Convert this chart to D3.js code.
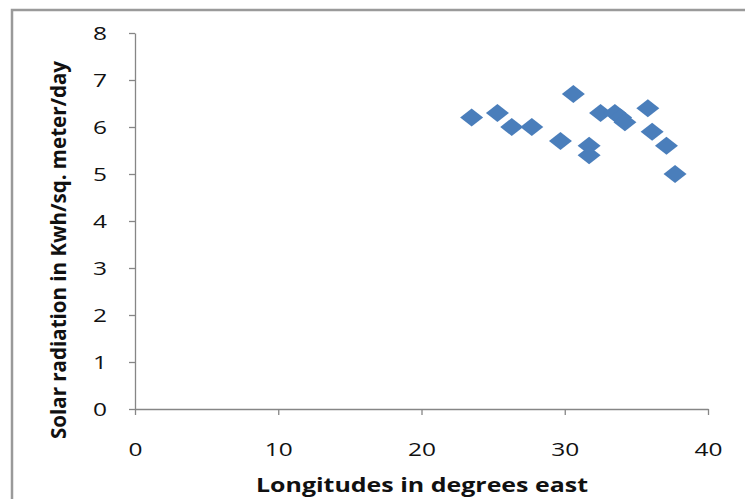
<!DOCTYPE html>
<html><head><meta charset="utf-8">
<script src="https://cdn.jsdelivr.net/npm/d3@7"></script>
<style>body{margin:0;background:#fff;} svg{display:block;}</style>
</head><body>
<svg id="chart" width="745" height="499"></svg>
<script>
const longitudes = [23.5, 25.3, 26.3, 27.7, 29.7, 30.6, 31.7, 31.7, 32.5, 33.5, 33.9, 34.2, 35.8, 36.1, 37.1, 37.7];
const radiation  = [6.2, 6.3, 6.0, 6.0, 5.7, 6.7, 5.6, 5.4, 6.3, 6.3, 6.2, 6.1, 6.4, 5.9, 5.6, 5.0];
const xTicks = [0, 10, 20, 30, 40];
const yTicks = [0, 1, 2, 3, 4, 5, 6, 7, 8];
const xTitle = "Longitudes in degrees east";
const yTitle = "Solar radiation in Kwh/sq. meter/day";

const svg = d3.select("#chart");
const font = "'Open Sans', 'DejaVu Sans', sans-serif";

// outer frame
svg.append("path").attr("d", "M12,505 L12,10 L750,10")
  .attr("fill", "none").attr("stroke", "#9a9a9a").attr("stroke-width", 2.5);

const x = d3.scaleLinear().domain([0, 40]).range([135, 708]);
const y = d3.scaleLinear().domain([0, 8]).range([409, 33]);

const xAxis = svg.append("g").attr("transform", "translate(0,409)")
  .call(d3.axisBottom(x).tickValues(xTicks).tickSize(6).tickPadding(28).tickSizeOuter(0));
const yAxis = svg.append("g").attr("transform", "translate(135,0)")
  .call(d3.axisLeft(y).tickValues(yTicks).tickSize(6).tickPadding(22).tickSizeOuter(0));

[xAxis, yAxis].forEach(g => {
  g.select(".domain").attr("stroke", "#868686").attr("stroke-width", 1.3);
  g.selectAll(".tick line").attr("stroke", "#868686").attr("stroke-width", 1.3);
  g.selectAll(".tick text").attr("fill", "#111").style("font-family", font).style("font-size", "18px")
    .attr("textLength", d => String(d).length * 14).attr("lengthAdjust", "spacingAndGlyphs");
});
yAxis.selectAll(".tick text").attr("dy", "0.36em");

// markers
const diamond = (cx, cy) => `M${cx},${cy-9} L${cx+11.5},${cy} L${cx},${cy+9} L${cx-11.5},${cy} Z`;
svg.append("g").selectAll("path").data(longitudes.map((d, i) => [d, radiation[i]]))
  .join("path")
  .attr("d", d => diamond(x(d[0]), y(d[1])))
  .attr("fill", "#4a7ebb");

// titles
svg.append("text").attr("x", 422).attr("y", 492).attr("text-anchor", "middle")
  .style("font-family", font).style("font-size", "19px").style("font-weight", "bold")
  .attr("textLength", 332).attr("lengthAdjust", "spacingAndGlyphs")
  .attr("fill", "#111").text(xTitle);
svg.append("text").attr("transform", "translate(66,250) rotate(-90)").attr("text-anchor", "middle")
  .style("font-family", font).style("font-size", "20.5px").style("font-weight", "bold")
  .attr("textLength", 378).attr("lengthAdjust", "spacingAndGlyphs")
  .attr("fill", "#111").text(yTitle);
</script>
</body></html>
